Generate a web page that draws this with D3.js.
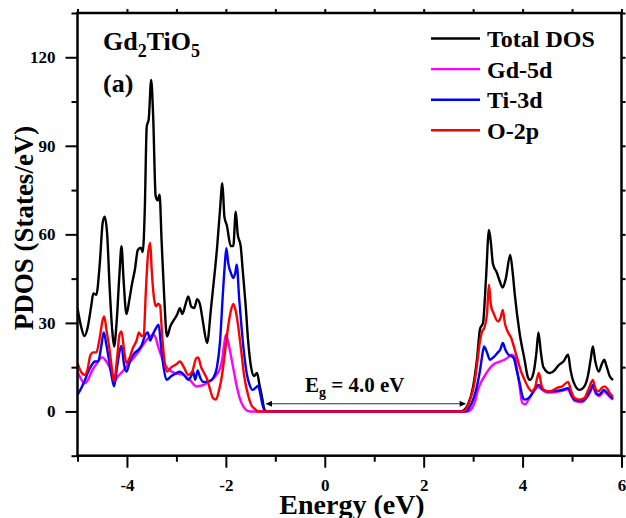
<!DOCTYPE html>
<html>
<head>
<meta charset="utf-8">
<script src="https://cdn.jsdelivr.net/npm/d3@7"></script>
<style>
  html, body { margin: 0; padding: 0; background: #fff; }
  svg { display: block; }
  text { font-family: "Liberation Serif", "Times New Roman", serif; font-weight: bold; fill: #000; }
</style>
</head>
<body>
<svg id="chart" width="626" height="518"></svg>
<script>
// Energy (eV) / PDOS (States/eV) pairs for each channel
const totalDOS = [
  [-5.0, 35], [-4.93, 29], [-4.86, 25.5], [-4.8, 28], [-4.72, 36], [-4.68, 40], [-4.62, 39.5],
  [-4.55, 50], [-4.49, 64], [-4.45, 66], [-4.4, 60], [-4.35, 42], [-4.3, 28], [-4.26, 22],
  [-4.21, 30], [-4.15, 47], [-4.11, 56], [-4.07, 45], [-4.01, 33], [-3.95, 38], [-3.9, 43],
  [-3.84, 48], [-3.78, 54.7], [-3.72, 55.5], [-3.68, 54], [-3.64, 68], [-3.6, 96.5], [-3.56, 99],
  [-3.51, 112.3], [-3.47, 100], [-3.42, 73], [-3.38, 71.5], [-3.34, 73.4], [-3.3, 58], [-3.25, 40],
  [-3.19, 25.4], [-3.12, 29], [-3.05, 31], [-2.98, 33], [-2.93, 35], [-2.88, 33], [-2.82, 36],
  [-2.76, 39], [-2.7, 35.5], [-2.64, 35], [-2.58, 38], [-2.52, 36], [-2.46, 30], [-2.38, 23.2],
  [-2.3, 35], [-2.22, 48], [-2.18, 55], [-2.12, 68], [-2.07, 77.3], [-2.03, 66], [-1.98, 63],
  [-1.9, 56], [-1.85, 56], [-1.8, 67.7], [-1.76, 60], [-1.7, 56], [-1.66, 48], [-1.6, 36],
  [-1.55, 24], [-1.49, 15], [-1.43, 12], [-1.37, 13], [-1.32, 9], [-1.27, 5], [-1.22, 0.6],
  [-1.18, 0], [2.75, 0], [2.82, 0.5], [2.9, 2.5], [3.0, 8.5], [3.08, 18], [3.14, 28], [3.2, 30],
  [3.26, 45], [3.32, 61.5], [3.36, 57], [3.4, 50], [3.48, 47], [3.54, 44], [3.6, 42], [3.66, 45],
  [3.75, 53], [3.8, 47], [3.84, 40], [3.94, 26.5], [4.04, 17.5], [4.1, 12], [4.15, 10.7],
  [4.22, 13], [4.28, 20], [4.32, 26.8], [4.37, 20], [4.42, 15], [4.55, 13], [4.65, 14],
  [4.72, 15.5], [4.83, 17], [4.92, 19.2], [4.97, 14], [5.03, 10], [5.15, 7.3], [5.25, 8.5],
  [5.32, 12], [5.38, 18], [5.42, 22], [5.47, 17], [5.54, 13.5], [5.6, 16], [5.65, 17.5],
  [5.7, 15.2], [5.76, 12], [5.83, 10.7]
];

const gd5d = [
  [-5.0, 13.5], [-4.93, 11], [-4.85, 9.5], [-4.78, 11], [-4.7, 14], [-4.62, 16], [-4.5, 18.3],
  [-4.42, 17], [-4.34, 14.5], [-4.28, 11.5], [-4.24, 10.5], [-4.18, 12], [-4.09, 13.5], [-4.0, 15.5],
  [-3.9, 17.5], [-3.8, 19.5], [-3.74, 20.9], [-3.6, 24.3], [-3.47, 26], [-3.42, 25], [-3.37, 22],
  [-3.3, 18.5], [-3.23, 15.8], [-3.1, 13.5], [-2.98, 12.8], [-2.86, 12.4], [-2.72, 10.5],
  [-2.59, 8.5], [-2.48, 8.8], [-2.39, 9.6], [-2.28, 10.8], [-2.19, 12.4], [-2.12, 14.5],
  [-2.08, 17], [-2.04, 22], [-2.0, 26], [-1.96, 24], [-1.92, 20.9], [-1.87, 16.4], [-1.82, 12],
  [-1.78, 8.5], [-1.72, 4.5], [-1.67, 2.4], [-1.6, 0.6], [-1.52, 0], [2.9, 0], [2.98, 1.2],
  [3.04, 3.5], [3.1, 7.5], [3.17, 10.2], [3.27, 13], [3.33, 14.5], [3.4, 15.8], [3.54, 16.9],
  [3.65, 17.7], [3.72, 18.5], [3.77, 19.2], [3.84, 18.6], [3.89, 14], [3.94, 8.5], [3.99, 3],
  [4.05, 2.4], [4.12, 4], [4.18, 5.6], [4.26, 7.5], [4.32, 8.3], [4.4, 7.3], [4.5, 6.4],
  [4.65, 6.5], [4.8, 7], [4.92, 7.5], [4.98, 5.5], [5.05, 3.6], [5.2, 3.2], [5.3, 4.7],
  [5.38, 7], [5.42, 8.5], [5.48, 6], [5.54, 5.2], [5.6, 6], [5.64, 7], [5.7, 6], [5.78, 4.7],
  [5.83, 4]
];

const ti3d = [
  [-5.0, 5.6], [-4.92, 8], [-4.85, 10.7], [-4.78, 13.5], [-4.72, 15.5], [-4.65, 16.9], [-4.58, 17],
  [-4.52, 22], [-4.47, 26.8], [-4.42, 23], [-4.36, 17], [-4.31, 12], [-4.26, 8.5], [-4.2, 15],
  [-4.14, 21], [-4.11, 22.2], [-4.06, 16], [-4.01, 13.5], [-3.94, 17], [-3.86, 19.5], [-3.77, 20.9],
  [-3.7, 22.5], [-3.64, 25.5], [-3.58, 26.8], [-3.53, 24], [-3.48, 26], [-3.42, 28], [-3.36, 29.4],
  [-3.31, 22], [-3.26, 15], [-3.2, 10.7], [-3.1, 12], [-3.0, 13], [-2.93, 13.5], [-2.85, 12.5],
  [-2.76, 10.7], [-2.7, 12], [-2.66, 13.5], [-2.62, 10.7], [-2.57, 13.9], [-2.52, 11.5],
  [-2.46, 10], [-2.34, 10.2], [-2.25, 11.5], [-2.18, 15], [-2.12, 23.2], [-2.06, 40], [-2.02, 50],
  [-1.99, 55.3], [-1.95, 50], [-1.9, 47], [-1.85, 45.2], [-1.81, 47], [-1.78, 49.7], [-1.73, 38],
  [-1.68, 28], [-1.64, 20.9], [-1.58, 13], [-1.52, 9], [-1.46, 7.3], [-1.4, 8], [-1.35, 8.7],
  [-1.31, 6.5], [-1.27, 3], [-1.22, 0.5], [-1.18, 0], [2.85, 0], [2.93, 1.5], [3.0, 4],
  [3.07, 8], [3.13, 13], [3.18, 18.5], [3.22, 22], [3.28, 20], [3.34, 17.5], [3.42, 18.5],
  [3.5, 20], [3.55, 21], [3.6, 23.2], [3.65, 21], [3.7, 19.5], [3.82, 18.1], [3.88, 14],
  [3.94, 9.6], [4.0, 5], [4.04, 4], [4.12, 4.5], [4.2, 6.2], [4.26, 8], [4.32, 9], [4.4, 7.6],
  [4.5, 6.8], [4.65, 6.9], [4.8, 7.3], [4.92, 7.9], [4.98, 5.8], [5.05, 4], [5.2, 3.5], [5.3, 5],
  [5.38, 7.5], [5.42, 9], [5.48, 6.5], [5.54, 5.6], [5.6, 6.5], [5.64, 7.3], [5.7, 6.5],
  [5.78, 5], [5.83, 4.3]
];

const o2p = [
  [-5.0, 16.4], [-4.93, 13.5], [-4.86, 12.4], [-4.8, 14], [-4.74, 19], [-4.68, 20], [-4.62, 20],
  [-4.55, 25], [-4.49, 31], [-4.46, 32.2], [-4.41, 27], [-4.36, 22], [-4.3, 14], [-4.26, 10.2],
  [-4.2, 18], [-4.15, 26], [-4.11, 27.1], [-4.06, 21], [-4.01, 16.4], [-3.95, 18], [-3.88, 21.5],
  [-3.8, 24.3], [-3.76, 26.8], [-3.7, 25.5], [-3.66, 26], [-3.62, 40], [-3.58, 52], [-3.53, 57.2],
  [-3.5, 48], [-3.45, 38], [-3.41, 35.6], [-3.37, 36.5], [-3.33, 35.8], [-3.29, 26], [-3.24, 17],
  [-3.19, 13.5], [-3.1, 15], [-3.0, 16], [-2.93, 16.9], [-2.85, 15], [-2.76, 12.4], [-2.68, 13.5],
  [-2.6, 18], [-2.56, 18.3], [-2.5, 15], [-2.44, 13], [-2.38, 11], [-2.32, 7.5], [-2.26, 4.5],
  [-2.2, 4], [-2.14, 7], [-2.08, 12], [-2.02, 19.8], [-1.96, 28], [-1.9, 34], [-1.85, 36.4],
  [-1.8, 34], [-1.76, 30], [-1.7, 22], [-1.63, 12], [-1.55, 5.5], [-1.48, 2], [-1.41, 0.8],
  [-1.35, 0], [2.8, 0], [2.88, 1.5], [2.95, 4.5], [3.02, 9], [3.08, 16], [3.14, 24], [3.18, 27],
  [3.23, 28.5], [3.28, 33], [3.32, 42.9], [3.36, 36], [3.42, 33], [3.5, 30.5], [3.56, 32],
  [3.6, 34.4], [3.64, 30], [3.7, 27], [3.77, 24.9], [3.84, 21], [3.9, 17.5], [3.97, 13.5],
  [4.04, 10.7], [4.12, 8], [4.18, 6.8], [4.25, 8], [4.29, 11], [4.33, 13], [4.38, 9], [4.45, 7],
  [4.55, 6.8], [4.7, 8], [4.8, 8.5], [4.92, 10], [4.98, 7], [5.05, 4.5], [5.15, 4], [5.25, 4.5],
  [5.32, 7], [5.38, 9.5], [5.42, 10.7], [5.48, 7.5], [5.54, 6.8], [5.6, 8], [5.66, 8.5],
  [5.72, 7.5], [5.78, 5.8], [5.83, 5.1]
];

const seriesNames = ["Total DOS", "Gd-5d", "Ti-3d", "O-2p"];
const seriesColors = ["#000000", "#ff00ff", "#0000ff", "#ff0000"];
const seriesData = [totalDOS, gd5d, ti3d, o2p];

const xMajorTicks = [-4, -2, 0, 2, 4, 6];
const xMinorTicks = [-5, -3, -1, 1, 3, 5];
const yMajorTicks = [0, 30, 60, 90, 120];
const yMinorTicks = [-15, 15, 45, 75, 105, 135];

// Band gap edges (eV) and the height of the arrow
const gapEdges = [-1.19, 2.85];
const gapLevel = 2.6;

const svg = d3.select("#chart");
const plotLeft = 77.5, plotRight = 621.5, plotTop = 13, plotBottom = 455.7;

const x = d3.scaleLinear().domain([-5, 6]).range([plotLeft, plotRight]);
const y = d3.scaleLinear().domain([-15, 135]).range([plotBottom, plotTop]);

const defs = svg.append("defs");
// clip curves to plotting area
defs.append("clipPath").attr("id", "plotClip")
  .append("rect").attr("x", plotLeft).attr("y", plotTop)
  .attr("width", plotRight - plotLeft).attr("height", plotBottom - plotTop);

// curves
const line = d3.line().x(d => x(d[0])).y(d => y(d[1])).curve(d3.curveMonotoneX);
const curves = svg.append("g").attr("clip-path", "url(#plotClip)");
seriesData.forEach((s, i) => {
  curves.append("path")
    .attr("d", line(s))
    .attr("fill", "none")
    .attr("stroke", seriesColors[i])
    .attr("stroke-width", 2.4)
    .attr("stroke-linejoin", "round");
});

// axes (plain hyphen for negative tick labels)
const plainNumber = d => String(d);
function styleAxis(g) {
  g.select(".domain").remove();
  g.selectAll(".tick line").attr("stroke", "#000").attr("stroke-width", 2);
  g.selectAll(".tick text")
    .style("font-family", "'Liberation Serif', 'Times New Roman', serif")
    .style("font-weight", "bold").style("font-size", "17px").attr("fill", "#000");
}

svg.append("g").attr("transform", `translate(0,${plotBottom})`)
  .call(d3.axisBottom(x).tickValues(xMajorTicks).tickSize(12).tickPadding(11).tickFormat(plainNumber))
  .call(styleAxis);
svg.append("g").attr("transform", `translate(0,${plotBottom})`)
  .call(d3.axisBottom(x).tickValues(xMinorTicks).tickSize(6).tickFormat(""))
  .call(styleAxis);
svg.append("g").attr("transform", `translate(${plotLeft},0)`)
  .call(d3.axisLeft(y).tickValues(yMajorTicks).tickSize(12).tickPadding(10).tickFormat(plainNumber))
  .call(styleAxis);
svg.append("g").attr("transform", `translate(${plotLeft},0)`)
  .call(d3.axisLeft(y).tickValues(yMinorTicks).tickSize(6).tickFormat(""))
  .call(styleAxis);
// short outward ticks on top and right
svg.append("g").attr("transform", `translate(0,${plotTop})`)
  .call(d3.axisTop(x).tickValues(xMajorTicks.concat(xMinorTicks)).tickSize(4).tickFormat(""))
  .call(styleAxis);
svg.append("g").attr("transform", `translate(${plotRight},0)`)
  .call(d3.axisRight(y).tickValues(yMajorTicks.concat(yMinorTicks)).tickSize(4).tickFormat(""))
  .call(styleAxis);

// frame
svg.append("rect").attr("x", plotLeft).attr("y", plotTop)
  .attr("width", plotRight - plotLeft).attr("height", plotBottom - plotTop)
  .attr("fill", "none").attr("stroke", "#000").attr("stroke-width", 2.5);

// axis titles
svg.append("text").attr("x", 352).attr("y", 514)
  .attr("text-anchor", "middle").style("font-size", "28px").text("Energy (eV)");
svg.append("text").attr("transform", "translate(33,228) rotate(-90)")
  .attr("text-anchor", "middle").style("font-size", "27px").text("PDOS (States/eV)");

// compound label
const title = svg.append("text").attr("x", 103).attr("y", 50).style("font-size", "26px");
title.append("tspan").text("Gd");
title.append("tspan").attr("dy", 7).style("font-size", "18px").text("2");
title.append("tspan").attr("dy", -7).text("TiO");
title.append("tspan").attr("dy", 7).style("font-size", "18px").text("5");
svg.append("text").attr("x", 103).attr("y", 92).style("font-size", "26px").text("(a)");

// legend
const legend = svg.append("g");
seriesNames.forEach((name, i) => {
  const cy = 38.5 + i * 30.6;
  legend.append("line").attr("x1", 431).attr("x2", 480).attr("y1", cy).attr("y2", cy)
    .attr("stroke", seriesColors[i]).attr("stroke-width", 2.4);
  legend.append("text").attr("x", 487).attr("y", cy + 8.5).style("font-size", "24px").text(name);
});

// band gap arrow
defs.append("marker").attr("id", "arrowHead").attr("viewBox", "0 0 10 10")
  .attr("refX", 10).attr("refY", 5).attr("markerWidth", 14).attr("markerHeight", 6)
  .attr("markerUnits", "userSpaceOnUse").attr("orient", "auto-start-reverse")
  .append("path").attr("d", "M0,0 L10,5 L0,10 Z").attr("fill", "#000");
svg.append("line")
  .attr("x1", x(gapEdges[0])).attr("x2", x(gapEdges[1]))
  .attr("y1", y(gapLevel)).attr("y2", y(gapLevel))
  .attr("stroke", "#333").attr("stroke-width", 1)
  .attr("marker-start", "url(#arrowHead)").attr("marker-end", "url(#arrowHead)");

const eg = svg.append("text").attr("x", 305).attr("y", 392).style("font-size", "21px");
eg.append("tspan").text("E");
eg.append("tspan").attr("dy", 5).style("font-size", "14px").text("g");
eg.append("tspan").attr("dy", -5).text(" = 4.0 eV");
</script>
</body>
</html>
